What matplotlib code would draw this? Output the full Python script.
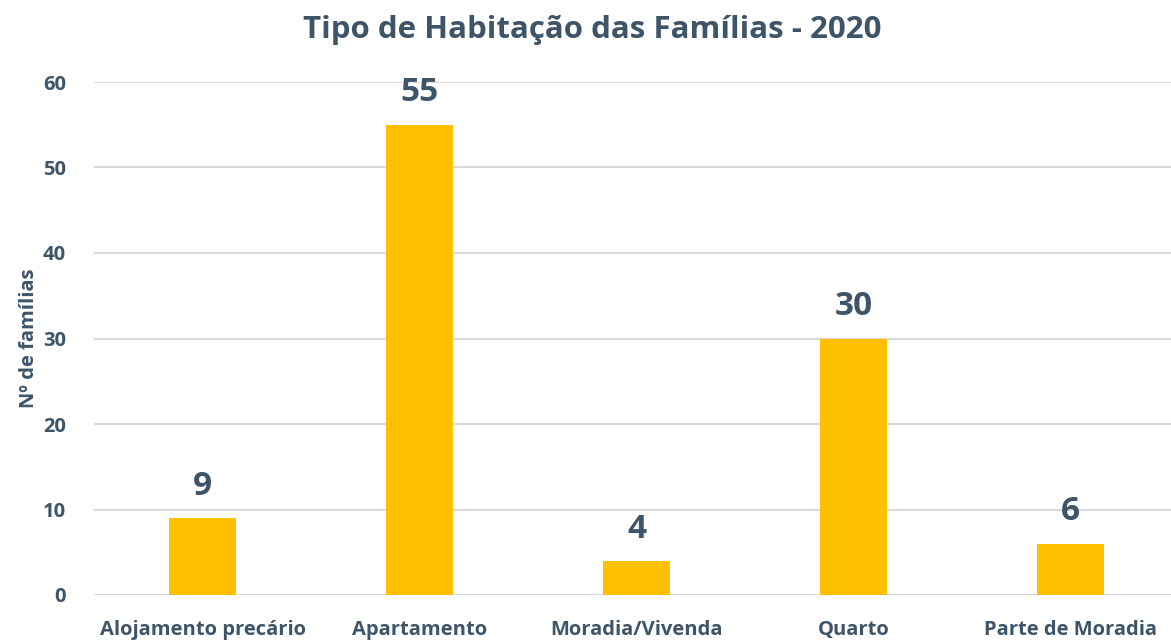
import matplotlib.pyplot as plt

# Data
categories = ["Alojamento precário", "Apartamento", "Moradia/Vivenda", "Quarto", "Parte de Moradia"]
values = [9, 55, 4, 30, 6]
yticks = [0, 10, 20, 30, 40, 50, 60]

text_color = "#3E5469"
bar_color = "#FFC000"
grid_color = "#D9D9D9"

plt.rcParams["font.family"] = ["Open Sans", "DejaVu Sans"]

fig = plt.figure(figsize=(11.71, 6.4), dpi=100)
ax = fig.add_axes([94 / 1171, 45 / 640, 1085 / 1171, 513 / 640])

x = range(len(categories))
ax.bar(x, values, width=0.31, color=bar_color, zorder=3)

# value labels above bars
for i, v in enumerate(values):
    ax.annotate(str(v), (i, v), xytext=(0, 11), textcoords="offset points",
                ha="center", va="bottom", fontsize=24, fontweight="bold", color=text_color)

ax.set_xlim(-0.5, len(categories) - 0.5)
ax.set_ylim(0, 60)
ax.set_yticks(yticks)
ax.set_xticks(list(x))
ax.set_xticklabels(categories)
ax.yaxis.grid(True, color=grid_color, linewidth=1.5, zorder=0)
ax.tick_params(axis="y", length=0, labelcolor=text_color, labelsize=14.5, pad=20)
ax.tick_params(axis="x", length=0, labelcolor=text_color, labelsize=14.5, pad=18)
for lbl in ax.get_xticklabels() + ax.get_yticklabels():
    lbl.set_fontweight("bold")
for s in ax.spines.values():
    s.set_visible(False)

ax.set_ylabel("Nº de famílias", fontsize=14.5, fontweight="bold", color=text_color, labelpad=3)
fig.text(592 / 1171, 1 - 30 / 640, "Tipo de Habitação das Famílias - 2020", ha="center", va="center",
         fontsize=22.5, fontweight="bold", color=text_color)

fig.savefig("out.png", dpi=100)
